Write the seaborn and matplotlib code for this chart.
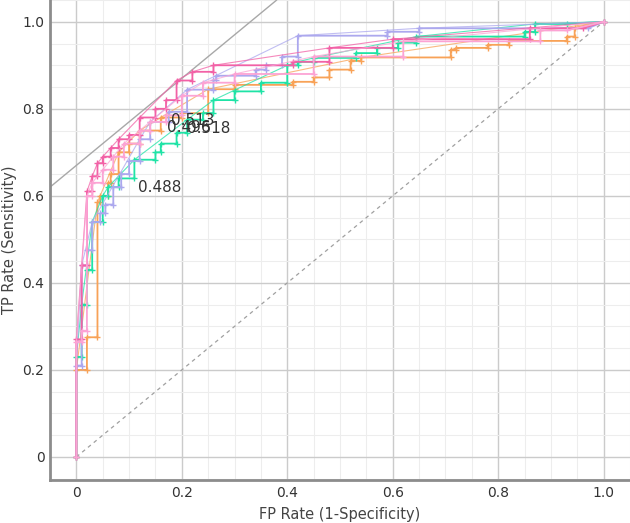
import numpy as np
import pandas as pd
import seaborn as sns
import matplotlib.pyplot as plt
from matplotlib.ticker import MultipleLocator, FixedLocator, FixedFormatter

# ROC step vertices (fpr, tpr)
orange_fpr = [0, 0, 0.02, 0.02, 0.04, 0.04, 0.045, 0.045, 0.06, 0.06, 0.065, 0.065, 0.08, 0.08,
              0.1, 0.1, 0.12, 0.12, 0.16, 0.16, 0.2, 0.2, 0.25, 0.25, 0.3, 0.3, 0.41, 0.41,
              0.45, 0.45, 0.48, 0.48, 0.52, 0.52, 0.54, 0.54, 0.71, 0.71, 0.72, 0.72, 0.78,
              0.78, 0.82, 0.82, 0.93, 0.93, 0.945, 0.945, 1.0]
orange_tpr = [0, 0.2, 0.2, 0.275, 0.275, 0.585, 0.585, 0.6, 0.6, 0.63, 0.63, 0.65, 0.65, 0.70,
              0.70, 0.72, 0.72, 0.75, 0.75, 0.78, 0.78, 0.79, 0.79, 0.845, 0.845, 0.855, 0.855, 0.862,
              0.862, 0.872, 0.872, 0.89, 0.89, 0.91, 0.91, 0.918, 0.918, 0.936, 0.936, 0.94, 0.94,
              0.947, 0.947, 0.956, 0.956, 0.966, 0.966, 0.986, 1.0]

green_fpr = [0, 0, 0.01, 0.01, 0.02, 0.02, 0.03, 0.03, 0.05, 0.05, 0.06, 0.06, 0.08, 0.08,
             0.11, 0.11, 0.15, 0.15, 0.16, 0.16, 0.19, 0.19, 0.21, 0.21, 0.24, 0.24, 0.26, 0.26,
             0.3, 0.3, 0.35, 0.35, 0.4, 0.4, 0.42, 0.42, 0.45, 0.45, 0.53, 0.53, 0.57, 0.57,
             0.61, 0.61, 0.645, 0.645, 0.85, 0.85, 0.87, 0.87, 0.93, 1.0]
green_tpr = [0, 0.23, 0.23, 0.35, 0.35, 0.43, 0.43, 0.54, 0.54, 0.6, 0.6, 0.62, 0.62, 0.64,
             0.64, 0.683, 0.683, 0.70, 0.70, 0.72, 0.72, 0.745, 0.745, 0.775, 0.775, 0.79, 0.79, 0.82,
             0.82, 0.84, 0.84, 0.86, 0.86, 0.90, 0.90, 0.908, 0.908, 0.917, 0.917, 0.928, 0.928, 0.94,
             0.94, 0.952, 0.952, 0.966, 0.966, 0.977, 0.977, 0.995, 0.995, 1.0]

lavender_fpr = [0, 0, 0.01, 0.01, 0.02, 0.02, 0.03, 0.03, 0.045, 0.045, 0.055, 0.055, 0.07, 0.07,
                0.085, 0.085, 0.1, 0.1, 0.12, 0.12, 0.14, 0.14, 0.175, 0.175, 0.21, 0.21, 0.26, 0.26,
                0.265, 0.265, 0.34, 0.34, 0.36, 0.36, 0.39, 0.39, 0.42, 0.42, 0.59, 0.59, 0.65, 0.65,
                0.97, 1.0]
lavender_tpr = [0, 0.21, 0.21, 0.44, 0.44, 0.475, 0.475, 0.54, 0.54, 0.56, 0.56, 0.58, 0.58, 0.62,
                0.62, 0.65, 0.65, 0.68, 0.68, 0.73, 0.73, 0.77, 0.77, 0.793, 0.793, 0.844, 0.844, 0.867,
                0.867, 0.876, 0.876, 0.89, 0.89, 0.90, 0.90, 0.92, 0.92, 0.968, 0.968, 0.977, 0.977, 0.985,
                0.985, 1.0]

pink_fpr = [0, 0, 0.01, 0.01, 0.02, 0.02, 0.03, 0.03, 0.04, 0.04, 0.05, 0.05, 0.065, 0.065,
            0.08, 0.08, 0.1, 0.1, 0.12, 0.12, 0.15, 0.15, 0.17, 0.17, 0.19, 0.19, 0.22, 0.22,
            0.26, 0.26, 0.41, 0.41, 0.48, 0.48, 0.6, 0.6, 0.86, 0.86, 0.96, 1.0]
pink_tpr = [0, 0.27, 0.27, 0.44, 0.44, 0.61, 0.61, 0.645, 0.645, 0.675, 0.675, 0.69, 0.69, 0.71,
            0.71, 0.73, 0.73, 0.74, 0.74, 0.78, 0.78, 0.80, 0.80, 0.82, 0.82, 0.865, 0.865, 0.885,
            0.885, 0.90, 0.90, 0.908, 0.908, 0.94, 0.94, 0.96, 0.96, 0.985, 0.985, 1.0]

lpink_fpr = [0, 0, 0.01, 0.01, 0.02, 0.02, 0.03, 0.03, 0.05, 0.05, 0.07, 0.07, 0.09, 0.09,
             0.12, 0.12, 0.14, 0.14, 0.17, 0.17, 0.2, 0.2, 0.24, 0.24, 0.3, 0.3, 0.45, 0.45,
             0.62, 0.62, 0.88, 0.88, 0.93, 1.0]
lpink_tpr = [0, 0.265, 0.265, 0.29, 0.29, 0.6, 0.6, 0.63, 0.63, 0.66, 0.66, 0.69, 0.69, 0.72,
             0.72, 0.75, 0.75, 0.77, 0.77, 0.785, 0.785, 0.83, 0.83, 0.86, 0.86, 0.88, 0.88, 0.92,
             0.92, 0.955, 0.955, 0.98, 0.98, 1.0]

models = ["orange", "green", "lavender", "pink", "lightpink"]
colors = ["#f8a257", "#1fe3a6", "#aca8ee", "#f261a6", "#fca3d4"]
curves = [(orange_fpr, orange_tpr), (green_fpr, green_tpr), (lavender_fpr, lavender_tpr),
          (pink_fpr, pink_tpr), (lpink_fpr, lpink_tpr)]

label_text = ["0.513", "0.496", "0.518", "0.488"]
label_x = [0.18, 0.172, 0.21, 0.116]
label_y = [0.772, 0.757, 0.754, 0.62]

iso_intercept = 0.67
iso_slope = 1.0


def upper_hull(xs, ys):
    pts = sorted(set(zip(xs, ys)))
    hull = []
    for p in pts:
        while len(hull) >= 2:
            (x1, y1), (x2, y2) = hull[-2], hull[-1]
            if (x2 - x1) * (p[1] - y1) - (y2 - y1) * (p[0] - x1) >= 0:
                hull.pop()
            else:
                break
        hull.append(p)
    return [h[0] for h in hull], [h[1] for h in hull]


sns.set_theme(style="white")
plt.rcParams['font.family'] = ['DejaVu Sans']

fig = plt.figure(figsize=(6.3, 5.23), dpi=100)
ax = fig.add_axes([0.0794, 0.0822, 0.9206, 0.9178])

ax.set_xlim(-0.05, 1.05)
ax.set_ylim(-0.053, 1.05)

ax.xaxis.set_minor_locator(MultipleLocator(0.05))
ax.yaxis.set_minor_locator(MultipleLocator(0.05))

ticks = [0, 0.2, 0.4, 0.6, 0.8, 1.0]
tick_labels = ["0", "0.2", "0.4", "0.6", "0.8", "1.0"]
ax.xaxis.set_major_locator(FixedLocator(ticks))
ax.xaxis.set_major_formatter(FixedFormatter(tick_labels))
ax.yaxis.set_major_locator(FixedLocator(ticks))
ax.yaxis.set_major_formatter(FixedFormatter(tick_labels))

ax.grid(which="major", color="#cbcbcb", linewidth=1.0)
ax.grid(which="minor", color="#ededed", linewidth=0.8)
ax.set_axisbelow(True)

# chance diagonal
ax.plot([0, 1], [0, 1], color="#a0a0a0", linestyle=(0, (3, 3)), linewidth=0.9)
# iso-performance line
ax.axline((0, iso_intercept), slope=iso_slope, color="#a8a8a8", linewidth=1.0)

for name, col, (fx, ty) in zip(models, colors, curves):
    hx, hy = upper_hull(fx, ty)
    sns.lineplot(x=hx, y=hy, sort=False, estimator=None, color=col, linewidth=0.8,
                 alpha=0.75, ax=ax)
    sns.lineplot(x=fx, y=ty, sort=False, estimator=None, color=col, linewidth=1.3,
                 marker="+", markersize=4, markeredgewidth=1.0, markeredgecolor=col, ax=ax)

for t, x, y in zip(label_text, label_x, label_y):
    ax.text(x, y, t, fontsize=11, color="#333333", va="center", ha="left")

for side in ["top", "right"]:
    ax.spines[side].set_visible(False)
for side in ["left", "bottom"]:
    ax.spines[side].set_color("#8c8c8c")
    ax.spines[side].set_linewidth(2)

ax.tick_params(axis="both", which="both", length=0, labelsize=10, colors="#333333", pad=4)
ax.set_xlabel("FP Rate (1-Specificity)", fontsize=10.5, color="#444444", labelpad=5)
ax.set_ylabel("TP Rate (Sensitivity)", fontsize=10.5, color="#444444", labelpad=4)

fig.savefig("out.png", dpi=100)
